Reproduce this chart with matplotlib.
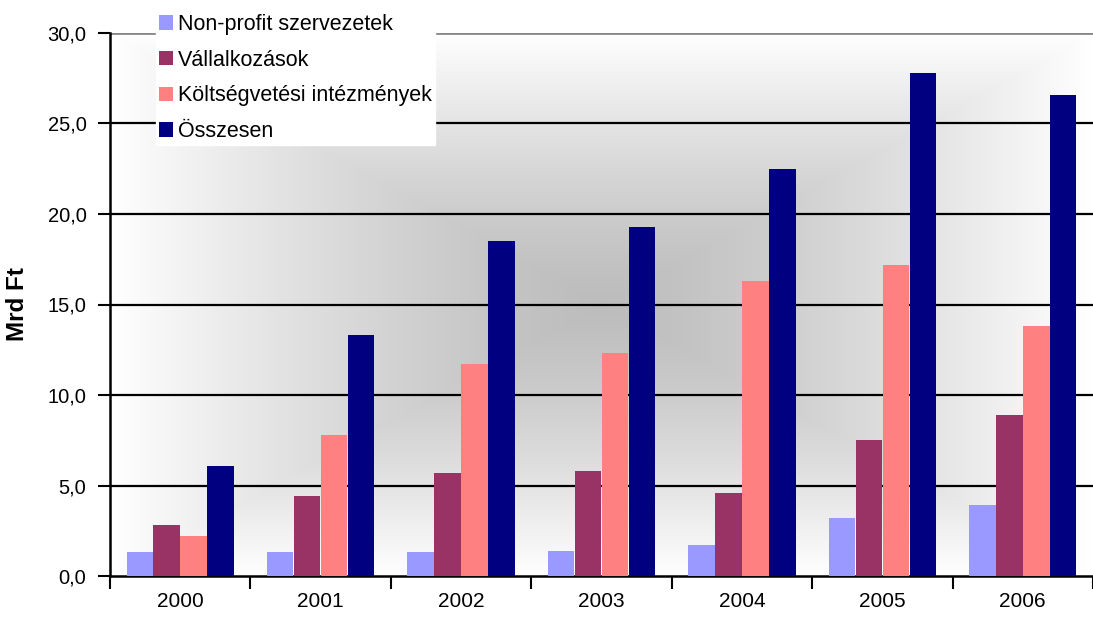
import numpy as np
import matplotlib.pyplot as plt

plt.rcParams['font.family'] = ['Liberation Sans', 'DejaVu Sans']

# Adatok (Mrd Ft)
years = ['2000', '2001', '2002', '2003', '2004', '2005', '2006']
series = ['Non-profit szervezetek', 'Vállalkozások',
          'Költségvetési intézmények', 'Összesen']
nonprofit = [1.3, 1.3, 1.3, 1.4, 1.7, 3.2, 3.9]
vallalk = [2.8, 4.4, 5.7, 5.8, 4.6, 7.5, 8.9]
koltsegv = [2.2, 7.8, 11.7, 12.3, 16.3, 17.2, 13.8]
osszesen = [6.1, 13.3, 18.5, 19.3, 22.5, 27.8, 26.6]
colors = ['#9999FF', '#993366', '#FF8080', '#000080']

fig = plt.figure(figsize=(10.93, 6.17), dpi=100)
ax = fig.add_axes([110/1093, 41/617, 983/1093, 543/617])

# hatter: negyzetes gradiens kozeprol
n = 400
gx, gy = np.meshgrid(np.linspace(-1, 1, n), np.linspace(-1, 1, n))
d = np.maximum(np.abs(gx), np.abs(gy))
shade = 0.74 + 0.26 * d ** 1.3
ax.imshow(np.dstack([shade, shade, shade]), extent=[-0.5, 6.5, 0, 30],
          aspect='auto', zorder=0, interpolation='bilinear')

x = np.arange(len(years))
w = 0.189
data = [nonprofit, vallalk, koltsegv, osszesen]
for i, (vals, c, lab) in enumerate(zip(data, colors, series)):
    ax.bar(x + (i - 1.5) * (w + 0.003), vals, w, color=c, label=lab, zorder=3)

for yv in [5, 10, 15, 20, 25]:
    ax.axhline(yv, color='black', lw=1.6, zorder=2)
ax.axhline(30, color='#888888', lw=2, zorder=2)

ax.set_xlim(-0.5, 6.5)
ax.set_ylim(0, 30)
ax.set_yticks(np.arange(0, 31, 5))
ax.set_yticklabels([f'{v:.1f}'.replace('.', ',') for v in np.arange(0, 31, 5)],
                   fontsize=14.5)
ax.set_xticks(np.arange(-0.5, 7, 1))
ax.set_xticklabels([])
ax.set_xticks(x, minor=True)
ax.set_xticklabels(years, minor=True, fontsize=15)
ax.tick_params(axis='x', which='minor', length=0, pad=11.5)
ax.tick_params(axis='x', which='major', length=9, width=1.5, direction='out')
ax.tick_params(axis='y', length=9, width=1.5, direction='out', pad=8)
for s in ['top', 'right']:
    ax.spines[s].set_visible(False)
for s in ['left', 'bottom']:
    ax.spines[s].set_linewidth(1.8)
ax.set_ylabel('Mrd Ft', fontsize=17.5, fontweight='bold', labelpad=13)

leg = ax.legend(loc='lower left', bbox_to_anchor=(145/1093, 1 - 156/617),
                bbox_transform=fig.transFigure, fontsize=15.5, frameon=True,
                fancybox=False, edgecolor='white', framealpha=1,
                handlelength=0.65, handleheight=0.65, handletextpad=0.25,
                labelspacing=0.68, borderpad=0.15)
leg.set_zorder(5)

fig.savefig('out.png', dpi=100)
